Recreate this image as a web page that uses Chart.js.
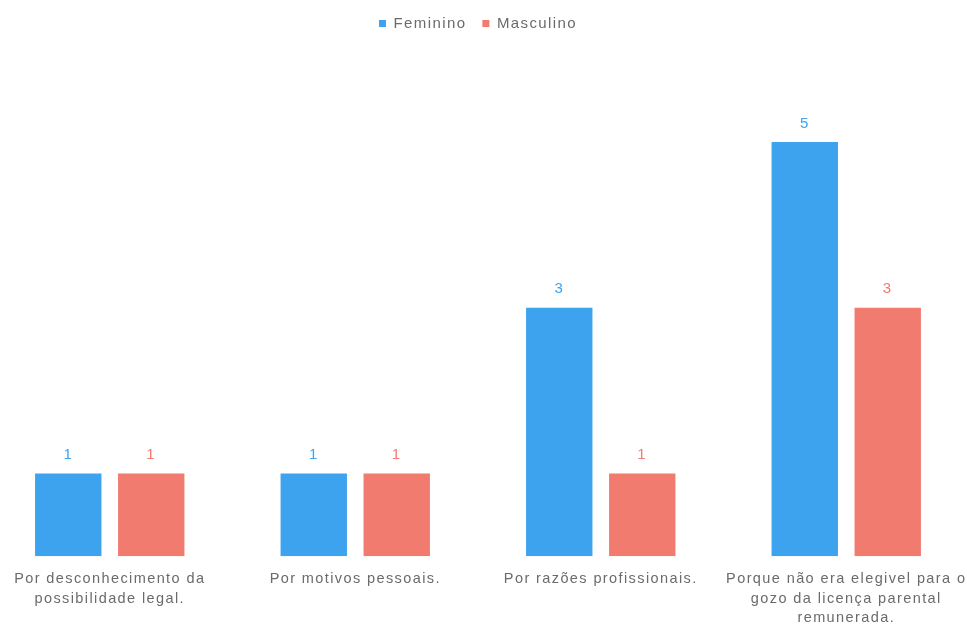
<!DOCTYPE html>
<html lang="pt">
<head>
<meta charset="utf-8">
<title>Motivos</title>
<script src="https://cdn.jsdelivr.net/npm/chart.js@4/dist/chart.umd.min.js"></script>
<style>
  html, body { margin: 0; padding: 0; background: #fff; overflow: hidden; }
  #wrap { position: relative; width: 982px; height: 643px; margin-left: -13px; }
</style>
</head>
<body>
<div id="wrap"><canvas id="chart"></canvas></div>
<script>
"use strict";

// ── Data ────────────────────────────────────────────────────────────────────
const CATEGORIES = [
  ["Por desconhecimento da", "possibilidade legal."],
  "Por motivos pessoais.",
  "Por razões profissionais.",
  ["Porque não era elegivel para o", "gozo da licença parental", "remunerada."],
];
const FEMININO = [1, 1, 3, 5];
const MASCULINO = [1, 1, 1, 3];

const BLUE = "#3da3ee";
const RED = "#f07b6e";
const TEXT = "#6b6b6b";
const FONT = "'Liberation Sans', Arial, sans-serif";
const SPACING = "1.4px";

// the text here is set quite loose, so give the context some letter spacing
const looseText = {
  id: "looseText",
  beforeUpdate(chart) { chart.ctx.letterSpacing = SPACING; },
  beforeDraw(chart) { chart.ctx.letterSpacing = SPACING; },
};

// value labels drawn above each bar, in the bar's own colour
const barValues = {
  id: "barValues",
  afterDatasetsDraw(chart) {
    const ctx = chart.ctx;
    ctx.save();
    ctx.font = `15px ${FONT}`;
    ctx.textAlign = "center";
    ctx.textBaseline = "bottom";
    chart.data.datasets.forEach((ds, i) => {
      chart.getDatasetMeta(i).data.forEach((bar, j) => {
        ctx.fillStyle = ds.backgroundColor;
        ctx.fillText(String(ds.data[j]), bar.x, bar.y - 11);
      });
    });
    ctx.restore();
  },
};

// extra room under the legend
const legendGap = {
  id: "legendGap",
  beforeInit(chart) {
    const fit = chart.legend.fit;
    chart.legend.fit = function () {
      fit.bind(chart.legend)();
      this.height += 101;
    };
  },
};

new Chart(document.getElementById("chart"), {
  type: "bar",
  data: {
    labels: CATEGORIES,
    datasets: [
      { label: "Feminino", data: FEMININO, backgroundColor: BLUE },
      { label: "Masculino", data: MASCULINO, backgroundColor: RED },
    ],
  },
  options: {
    animation: false,
    responsive: true,
    maintainAspectRatio: false,
    categoryPercentage: 0.676,
    barPercentage: 0.8,
    layout: { padding: { top: 0, bottom: 2, left: 0, right: 0 } },
    scales: {
      x: {
        grid: { display: false, drawTicks: false },
        border: { display: false },
        // long edge labels may hang past the plot area
        afterFit(scale) {
          scale.paddingLeft = 0;
          scale.paddingRight = 0;
        },
        ticks: {
          color: TEXT,
          padding: 13,
          maxRotation: 0,
          autoSkip: false,
          font: { family: FONT, size: 14.5, lineHeight: 1.35 },
        },
      },
      y: {
        display: false,
        min: 0,
        max: 5,
      },
    },
    plugins: {
      legend: {
        position: "top",
        labels: {
          color: TEXT,
          boxWidth: 7,
          boxHeight: 7,
          padding: 16,
          font: { family: FONT, size: 15 },
        },
      },
      tooltip: { enabled: false },
    },
  },
  plugins: [looseText, barValues, legendGap],
});
</script>
</body>
</html>
